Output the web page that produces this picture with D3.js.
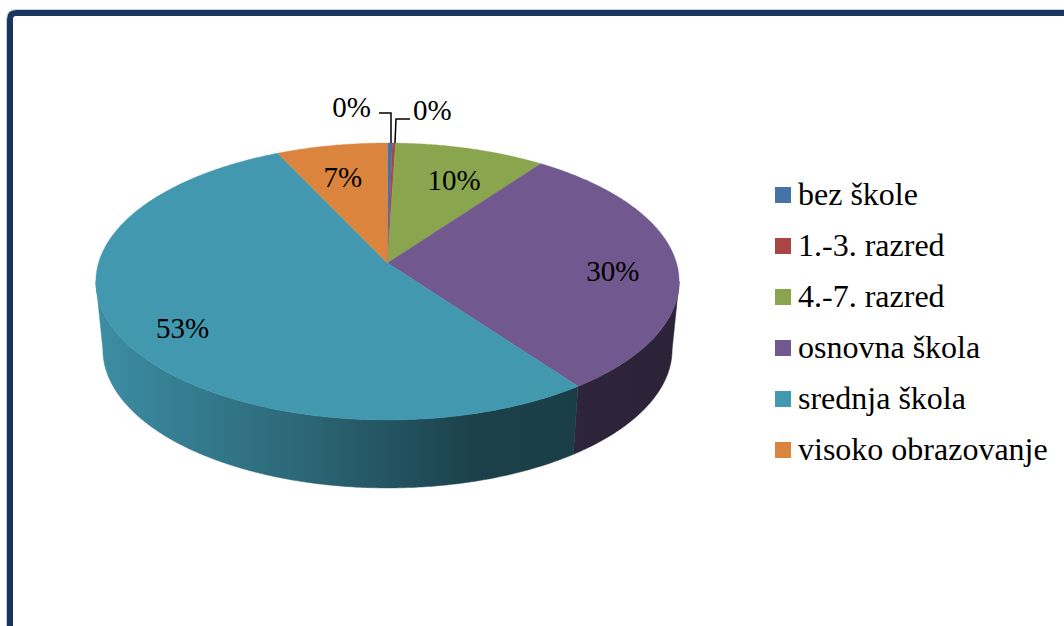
<!DOCTYPE html>
<html><head><meta charset="utf-8">
<script src="https://cdn.jsdelivr.net/npm/d3@7"></script>
<style>html,body{margin:0;padding:0;background:#fff;}svg{display:block;}</style>
</head><body>
<script>
const categories = ["bez škole","1.-3. razred","4.-7. razred","osnovna škola","srednja škola","visoko obrazovanje"];
const values = [0.3, 0.2, 9.5, 30, 53, 7];
const labels = ["0%","0%","10%","30%","53%","7%"];
const colors = ["#4572A7","#AA4643","#89A54E","#71588F","#4198AF","#DB843D"];

const W = 1064, H = 626;
const FONT = '"Liberation Serif"';
const svg = d3.select("body").append("svg").attr("width", W).attr("height", H);

// frame
svg.append("path").attr("d", "M10,640 L10,19 Q10,13 16,13 L1080,13")
  .attr("fill","none").attr("stroke","#17375E").attr("stroke-width",6);
svg.append("path").attr("d", "M6.5,640 L6.5,19 Q6.5,9.5 16,9.5 L1080,9.5")
  .attr("fill","none").attr("stroke","#c8ccd4").attr("stroke-width",1);

// projection of the pie (u right, v toward viewer, z down into depth)
const CX = 387.5, CY = 263, R = 289, S = 136, K = 0.1335, T = 68, M = 0.024;
const xs = d3.scaleLinear().domain([-1,1]).range([CX-R, CX+R]);
const ys = d3.scaleLinear().domain([-1,1]).range([CY-S, CY+S]);
function P(u, v, z) {
  const d = 1 - K*v, sh = 1 - M*z;
  return [xs(u/d*sh), ys(v/d) + T*z];
}
function arcPts(a0, a1, r, z) {
  const n = Math.max(2, Math.ceil(Math.abs(a1-a0)/(Math.PI/360)));
  const pts = [];
  for (let i=0;i<=n;i++){ const a = a0 + (a1-a0)*i/n; pts.push(P(r*Math.sin(a), -r*Math.cos(a), z)); }
  return pts;
}
const pie = d3.pie().sort(null).value(d => d)(values);
const line = d3.line();

// gradients for walls
const defs = svg.append("defs");
colors.forEach((c,i) => {
  const g = defs.append("linearGradient").attr("id","wg"+i).attr("gradientUnits","userSpaceOnUse")
    .attr("x1", CX-R).attr("x2", CX+R).attr("y1",0).attr("y2",0);
  const base = d3.rgb(c);
  const sc = f => d3.rgb(base.r*f, base.g*f, base.b*f).formatHex();
  [[0,0.93],[0.35,0.68],[0.66,0.42],[1,0.40]].forEach(([o,f]) =>
    g.append("stop").attr("offset", o).attr("stop-color", sc(f)));
});

// walls: visible where v >= K
const vis0 = Math.PI - Math.acos(K), vis1 = Math.PI + Math.acos(K);
const walls = svg.append("g");
pie.forEach((p,i) => {
  const a0 = Math.max(p.startAngle, vis0), a1 = Math.min(p.endAngle, vis1);
  if (a1 <= a0) return;
  const top = arcPts(a0, a1, 1, 0), bot = arcPts(a0, a1, 1, 1).reverse();
  walls.append("path").attr("d", line(top.concat(bot)) + "Z")
    .attr("fill", "url(#wg"+i+")").attr("stroke","url(#wg"+i+")").attr("stroke-width",0.5);
});

// top faces
const tops = svg.append("g");
pie.forEach((p,i) => {
  const pts = [P(0,0,0)].concat(arcPts(p.startAngle, p.endAngle, 1, 0));
  tops.append("path").attr("d", line(pts) + "Z").attr("fill", colors[i])
    .attr("stroke", colors[i]).attr("stroke-width", 0.4);
});

// labels
const lab = svg.append("g");
const txt = (g, x, y, s, anchor, size) => g.append("text").attr("x", x).attr("y", y)
  .attr("text-anchor", anchor).style("font-family", FONT).style("font-size", size + "px")
  .attr("fill", "#000").text(s);
let smallSide = -1;
pie.forEach((p,i) => {
  const mid = (p.startAngle + p.endAngle)/2;
  if (values[i] < 1) {
    const [ax, ay] = P(Math.sin(mid), -Math.cos(mid), 0);
    if (smallSide < 0) {
      const tx = Math.round(ax) + 1;
      lab.append("path").attr("d", `M${tx},${ay} L${tx},${ay-30} L${tx-12},${ay-30}`)
        .attr("fill","none").attr("stroke","#000").attr("stroke-width",1.5);
      txt(lab, tx-20, ay-26, labels[i], "end", 29);
    } else {
      const tx = Math.round(ax) + 2;
      lab.append("path").attr("d", `M${tx-1},${ay} L${tx},${ay-24} L${tx+14},${ay-24}`)
        .attr("fill","none").attr("stroke","#000").attr("stroke-width",1.5);
      txt(lab, tx+17, ay-23, labels[i], "start", 29);
    }
    smallSide = -smallSide;
  } else {
    const [lx, ly] = P(0.78*Math.sin(mid), -0.78*Math.cos(mid), 0);
    txt(lab, lx, ly + 18, labels[i], "middle", 29);
  }
});

// legend
const ly = d3.scalePoint().domain(categories).range([187, 187 + 5*51]);
const leg = svg.append("g");
categories.forEach((c,i) => {
  leg.append("rect").attr("x", 775).attr("y", ly(c)).attr("width",16).attr("height",16).attr("fill", colors[i]);
  txt(leg, 798, ly(c) + 18, c, "start", 32);
});
</script>
</body></html>
